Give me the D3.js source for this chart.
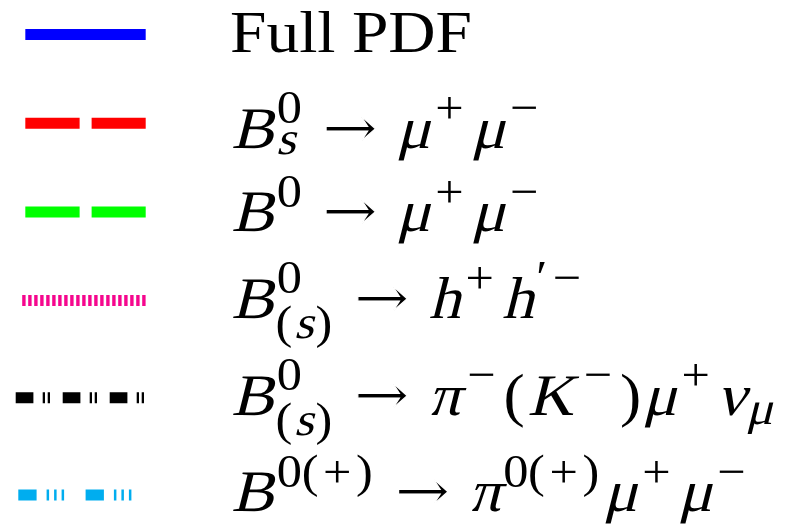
<!DOCTYPE html>
<html>
<head>
<meta charset="utf-8">
<script src="https://cdn.jsdelivr.net/npm/d3@7"></script>
<style>
  html, body { margin: 0; padding: 0; background: #ffffff; }
  svg { display: block; }
</style>
</head>
<body>
<svg id="legend" width="812" height="526"></svg>
<script>
// ---- legend content -------------------------------------------------------
// Each label is a list of tokens: mi = math italic, rm = upright text,
// op = binary operator / symbol, rel = relation, sup/sub = scripts.
const entryNames = ["full", "bs2mumu", "bd2mumu", "b2hh", "b2pimunu", "b2pimumu"];

const entryLabels = [
  [{ rm: "Full PDF" }],
  [{ mi: "B" }, { sup: [{ rm: "0" }], sub: [{ mi: "s" }] }, { rel: "→" },
   { mi: "μ" }, { sup: [{ op: "+" }] }, { mi: "μ" }, { sup: [{ op: "−" }] }],
  [{ mi: "B" }, { sup: [{ rm: "0" }] }, { rel: "→" },
   { mi: "μ" }, { sup: [{ op: "+" }] }, { mi: "μ" }, { sup: [{ op: "−" }] }],
  [{ mi: "B" }, { sup: [{ rm: "0" }], sub: [{ rm: "(" }, { mi: "s" }, { rm: ")" }] }, { rel: "→" },
   { mi: "h" }, { sup: [{ op: "+" }] }, { mi: "h" }, { sup: [{ op: "′" }, { op: "−" }] }],
  [{ mi: "B" }, { sup: [{ rm: "0" }], sub: [{ rm: "(" }, { mi: "s" }, { rm: ")" }] }, { rel: "→" },
   { mi: "π" }, { sup: [{ op: "−" }] }, { rm: "(" }, { mi: "K" }, { sup: [{ op: "−" }] }, { rm: ")" },
   { mi: "μ" }, { sup: [{ op: "+" }] }, { mi: "ν" }, { sub: [{ mi: "μ" }] }],
  [{ mi: "B" }, { sup: [{ rm: "0" }, { rm: "(" }, { op: "+" }, { rm: ")" }] }, { rel: "→" },
   { mi: "π" }, { sup: [{ rm: "0" }, { rm: "(" }, { op: "+" }, { rm: ")" }] },
   { mi: "μ" }, { sup: [{ op: "+" }] }, { mi: "μ" }, { sup: [{ op: "−" }] }]
];

// ---- line styles for the handles ------------------------------------------
const lineColors = ["#0000ff", "#ff0000", "#00ff00", "#f5078e", "#000000", "#00adef"];
const lineDashes = [
  null,
  "54.3 12",
  "54.3 12",
  "3.4 2.6",
  "17.7 9.3 2.3 2.7 2.3 12.7",
  "18.3 10 2.5 5 2.5 5 2.5 21.5"
];
// handle extent in handle-length units (0 = left end, 1 = right end)
const lineExtent = [[0.074, 1], [0.074, 1], [0.074, 1], [0.05, 1], [0, 1], [0.02, 0.894]];

// ---- layout constants ------------------------------------------------------
const F = 59;              // base font size
const SCRIPT = 0.79;       // script size ratio
const SLANT = -14;         // math italic slant (deg)
const STRETCH = 1.08;      // horizontal glyph stretch
const HANDLE_X0 = 15.7, HANDLE_X1 = 145.7;
const TEXT_X = 230;
const ROW0 = 34.5, PITCH = 88.7, DEEP_EXTRA = 8.5;
const BASE_OFF = 17;                       // baseline below the handle centre line
const labelDrop = [0.3, 7.5, 2.5, 0, 0, -1]; // fine vertical adjustment per label

// advance widths (em) of the math glyphs
const advance = {
  "B": 0.759, "s": 0.469, "μ": 0.603, "h": 0.576, "π": 0.570, "K": 0.849, "ν": 0.485,
  "0": 0.5, "+": 0.778, "−": 0.778, "(": 0.389, ")": 0.389, "′": 0.3, "→": 1.0
};
const italicCorr = { "B": 0.05, "π": 0.036, "K": 0.072, "ν": 0.064 };

const svg = d3.select("#legend");

// rows: a row moves down a little more when the label above has a deep subscript
const hasDeepSub = lab => lab.some(t => t.sub && t.sub.some(s => s.rm === "("));
const rowUnits = [0];
entryLabels.forEach((lab, i) => {
  if (i > 0) rowUnits.push(rowUnits[i - 1] + PITCH + (hasDeepSub(entryLabels[i - 1]) ? DEEP_EXTRA : 0));
});
const y = d3.scaleLinear().domain([0, 1]).range([ROW0, ROW0 + 1]);
const hx = d3.scaleLinear().domain([0, 1]).range([HANDLE_X0, HANDLE_X1]);

// ---- handles ---------------------------------------------------------------
svg.append("g").selectAll("line")
  .data(entryNames)
  .join("line")
  .attr("x1", (d, i) => hx(lineExtent[i][0]))
  .attr("x2", (d, i) => hx(lineExtent[i][1]))
  .attr("y1", (d, i) => y(rowUnits[i]))
  .attr("y2", (d, i) => y(rowUnits[i]))
  .attr("stroke", (d, i) => lineColors[i])
  .attr("stroke-width", 11)
  .attr("stroke-linecap", "butt")
  .attr("stroke-dasharray", (d, i) => lineDashes[i]);

// ---- labels ----------------------------------------------------------------
const SERIF = "'Liberation Serif', 'DejaVu Serif', serif";

function glyph(g, ch, kind, x, base, size) {
  const t = g.append("text")
    .attr("x", 0).attr("y", 0)
    .attr("font-family", kind === "rel" ? "'DejaVu Serif', serif" : SERIF)
    .attr("font-size", size)
    .attr("fill", "#000")
    .text(ch);
  const w = t.node().getComputedTextLength() * STRETCH;
  const box = (advance[ch] !== undefined ? advance[ch] : w / size) * size;
  if (kind === "rel") {
    // long thin arrow: stretched and trimmed with a white outline
    t.attr("textLength", box * 0.94).attr("lengthAdjust", "spacingAndGlyphs")
      .attr("stroke", "#fff").attr("stroke-width", 1.1)
      .attr("transform", `translate(${x + 0.03 * size},${base})`);
  } else if (kind === "mi") {
    t.attr("transform", `translate(${x + (box - w) / 2},${base}) skewX(${SLANT}) scale(${STRETCH},1)`);
  } else {
    t.attr("transform", `translate(${x + (box - w) / 2},${base}) scale(${STRETCH},1)`);
  }
  return box;
}

function run(g, tokens, x, base, size) {
  let last = null;
  tokens.forEach(tok => {
    if (tok.rel) {
      x += 0.278 * size;
      x += glyph(g, tok.rel, "rel", x, base, size);
      x += 0.278 * size;
      last = null;
    } else if (tok.sup || tok.sub) {
      const s = size * SCRIPT;
      const supShift = 0.413 * size;
      let w = 0;
      if (tok.sup) {
        const ic = last ? (italicCorr[last] || 0) * size : 0;
        w = Math.max(w, run(g, tok.sup, x + ic, base - supShift, s) - x);
      }
      if (tok.sub) {
        const deep = tok.sub.some(t => t.rm === "(");
        const subShift = deep ? 0.35 * size : (tok.sup ? 0.1 : 0.15) * size;
        w = Math.max(w, run(g, tok.sub, x, base + subShift, s) - x);
      }
      x += w + 0.05 * size;
      last = null;
    } else {
      const kind = tok.mi !== undefined ? "mi" : tok.op !== undefined ? "op" : "rm";
      const ch = tok.mi || tok.op || tok.rm;
      x += glyph(g, ch, kind, x, base, size);
      last = ch;
    }
  });
  return x;
}

const labelsG = svg.append("g");
entryLabels.forEach((lab, i) => {
  const g = labelsG.append("g").attr("class", "label " + entryNames[i]);
  const base = y(rowUnits[i]) + BASE_OFF + labelDrop[i];
  if (lab.length === 1 && lab[0].rm && lab[0].rm.length > 1) {
    g.append("text").attr("x", TEXT_X).attr("y", base)
      .attr("font-family", SERIF).attr("font-size", F + 1)
      .attr("fill", "#000").attr("textLength", 242).attr("lengthAdjust", "spacingAndGlyphs")
      .text(lab[0].rm);
  } else {
    run(g, lab, TEXT_X, base, F);
  }
});
</script>
</body>
</html>
